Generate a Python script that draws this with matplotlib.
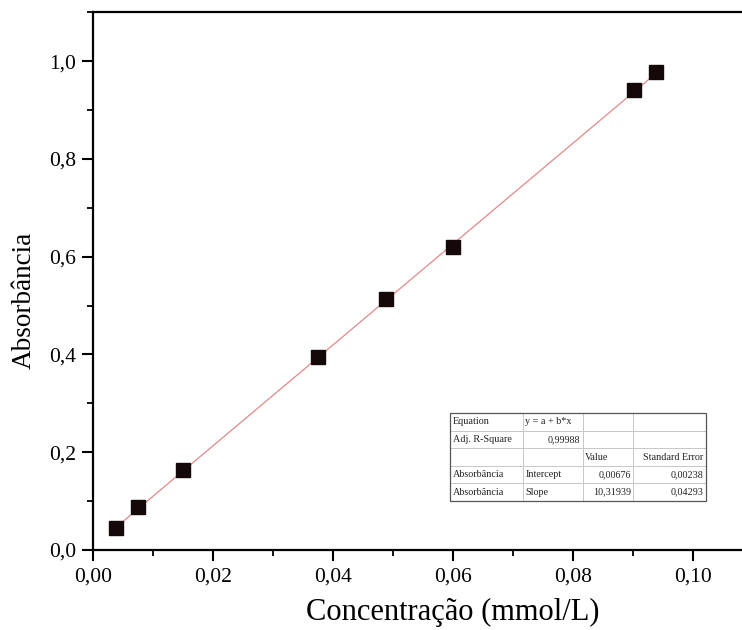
import matplotlib
matplotlib.use("Agg")
import matplotlib.pyplot as plt
from matplotlib.patches import Rectangle
from matplotlib.ticker import MultipleLocator
import numpy as np

plt.rcParams['font.family'] = ['Liberation Serif', 'DejaVu Serif']

# Calibration data
concentracao = [0.00378, 0.00745, 0.01495, 0.03745, 0.04878, 0.06005, 0.09017, 0.09383]
absorbancia = [0.0456, 0.0873, 0.1636, 0.3953, 0.5130, 0.6190, 0.9407, 0.9780]

# Linear fit results
intercept = 0.00676
slope = 10.31939
adj_r2_label = "0,99988"
intercept_label = "0,00676"
intercept_err_label = "0,00238"
slope_label = "10,31939"
slope_err_label = "0,04293"

xticks = [0.00, 0.02, 0.04, 0.06, 0.08, 0.10]
xtick_labels = ["0,00", "0,02", "0,04", "0,06", "0,08", "0,10"]
yticks = [0.0, 0.2, 0.4, 0.6, 0.8, 1.0]
ytick_labels = ["0,0", "0,2", "0,4", "0,6", "0,8", "1,0"]

fig = plt.figure(figsize=(7.42, 6.3), dpi=100)
# the plot frame runs past the right edge of the canvas
ax = fig.add_axes([93 / 742, 0.127, 720 / 742, 0.8535])

ax.set_xlim(0, 0.12)
ax.set_ylim(0, 1.1)

# Fitted line over the data range
xfit = np.array([min(concentracao), max(concentracao)])
ax.plot(xfit, intercept + slope * xfit, color='#e38888', lw=0.9, zorder=2)

ax.plot(concentracao, absorbancia, linestyle='none', marker='s', markersize=9.5,
        color='#140808', zorder=3)

for side in ['left', 'top', 'bottom']:
    ax.spines[side].set_linewidth(1.6)
    ax.spines[side].set_color('black')
ax.spines['right'].set_visible(False)

ax.set_xticks(xticks)
ax.set_xticklabels(xtick_labels)
ax.set_yticks(yticks)
ax.set_yticklabels(ytick_labels)
ax.xaxis.set_minor_locator(MultipleLocator(0.01))
ax.yaxis.set_minor_locator(MultipleLocator(0.1))
ax.tick_params(which='major', direction='out', length=8, width=1.5, labelsize=15.5)
ax.tick_params(axis='x', which='major', pad=5)
ax.tick_params(axis='y', which='major', pad=4)
ax.tick_params(which='minor', direction='out', length=4, width=1.3)
ax.tick_params(top=False, right=False, which='both')

ax.set_xlabel("Concentração (mmol/L)", fontsize=22, labelpad=8)
ax.set_ylabel("Absorbância", fontsize=19.5)
ax.yaxis.set_label_coords(-0.078, 0.465)

# Fit statistics table
tax = fig.add_axes([450 / 742, 1 - 501 / 630, 256 / 742, 88 / 630])
tax.axis('off')
cells = [
    ["Equation", "y = a + b*x", "", ""],
    ["Adj. R-Square", adj_r2_label, "", ""],
    ["", "", "Value", "Standard Error"],
    ["Absorbância", "Intercept", intercept_label, intercept_err_label],
    ["Absorbância", "Slope", slope_label, slope_err_label],
]
col_w = [73 / 256, 60 / 256, 50 / 256, 73 / 256]
tbl = tax.table(cellText=cells, colWidths=col_w, bbox=[0, 0, 1, 1], cellLoc='left')
tbl.auto_set_font_size(False)
for (r, c), cell in tbl.get_celld().items():
    cell.set_edgecolor('#c8c8c8')
    cell.set_linewidth(0.7)
    txt = cell.get_text()
    txt.set_fontsize(7.3)
    txt.set_color('#222222')
    cell.PAD = 0.04
    if (r == 1 and c == 1) or (r >= 3 and c >= 2) or (r == 2 and c == 3):
        txt.set_horizontalalignment('right')
        cell._loc = 'right'
    else:
        cell._loc = 'left'
tax.add_patch(Rectangle((0, 0), 1, 1, transform=tax.transAxes, fill=False,
                        edgecolor='#555555', lw=0.9, zorder=5, clip_on=False))

fig.savefig("out.png", dpi=100)
